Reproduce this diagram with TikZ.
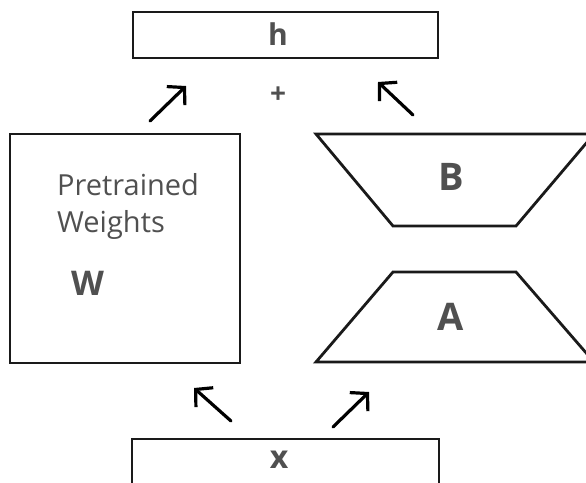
\documentclass[tikz,border=0pt]{standalone}
\usepackage{fontspec}
\setmainfont{Open Sans}
\usetikzlibrary{arrows.meta}
\definecolor{txt}{HTML}{505050}
\definecolor{ln}{HTML}{1A1A1A}
\tikzset{
  boxline/.style={draw=ln, line width=2.8pt, line join=miter},
  lbl/.style={text=txt, font=\bfseries, inner sep=0pt},
  flow/.style={draw=black, line width=3.2pt, line cap=round,
    -{Straight Barb[length=12pt,width=26pt,line width=3.2pt]}}
}
\begin{document}
\begin{tikzpicture}[x=1pt,y=-1pt]
\useasboundingbox (0,0) rectangle (586,482);
\begin{scope}
\clip (0,0) rectangle (586,482);
% h box
\draw[boxline] (133,12) rectangle (438,58);
\node[lbl, font=\fontsize{30}{30}\selectfont\bfseries] (h) at (278,34) {h};
\node[lbl, font=\fontsize{28}{28}\selectfont\bfseries] (plus) at (278,95) {+};
% W box
\draw[boxline] (10,134) rectangle (240,363);
\node[text=txt, anchor=base west, inner sep=0pt, font=\fontsize{29}{29}\selectfont] (pt) at (57,195) {Pretrained};
\node[text=txt, anchor=base west, inner sep=0pt, font=\fontsize{29}{29}\selectfont] (wt) at (57,232) {Weights};
\node[lbl, anchor=base west, font=\fontsize{34}{34}\selectfont\bfseries] (W) at (71,295) {W};
% B trapezoid
\draw[boxline] (316,134) -- (594,134) -- (516,226) -- (393,226) -- cycle;
\node[lbl, font=\fontsize{38}{38}\selectfont\bfseries] (B) at (451,177) {B};
% A trapezoid
\draw[boxline] (393,272) -- (516,272) -- (594,362) -- (316,362) -- cycle;
\node[lbl, font=\fontsize{38}{38}\selectfont\bfseries] (A) at (451,317) {A};
% x box
\draw[boxline] (132,439) rectangle (439,490);
\node[lbl, font=\fontsize{32}{32}\selectfont\bfseries] (x) at (279,460) {x};
\end{scope}
% arrows
\coordinate (a1s) at (150,121); \coordinate (a1e) at (186,86);
\coordinate (a2s) at (413,115); \coordinate (a2e) at (378,82);
\coordinate (a3s) at (231,421); \coordinate (a3e) at (194,388);
\coordinate (a4s) at (333,427); \coordinate (a4e) at (369,392);
\draw[flow] (a1s) -- (a1e);
\draw[flow] (a2s) -- (a2e);
\draw[flow] (a3s) -- (a3e);
\draw[flow] (a4s) -- (a4e);
\end{tikzpicture}
\end{document}
